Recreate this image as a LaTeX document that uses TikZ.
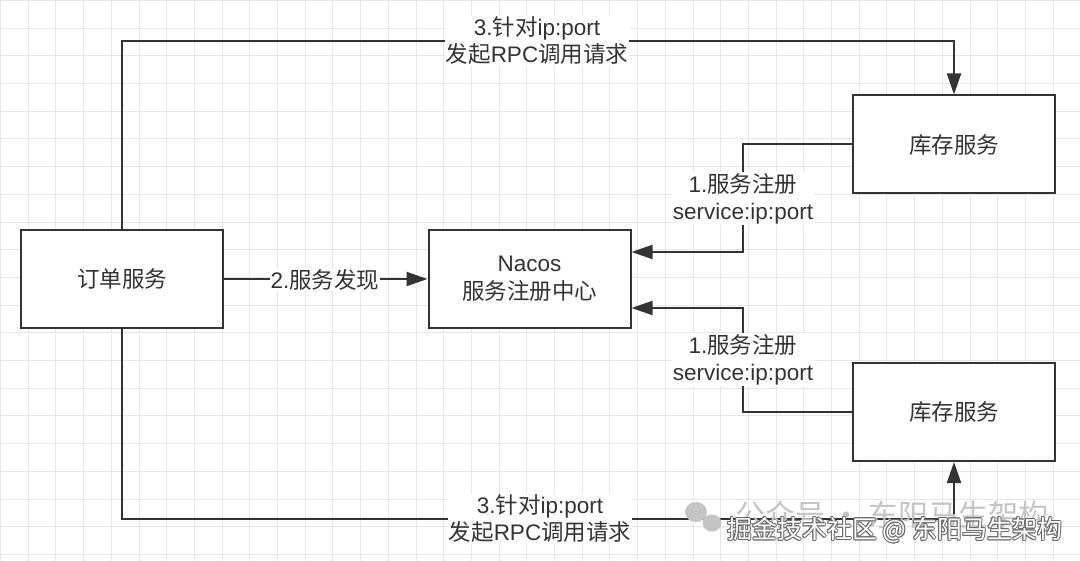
\documentclass[tikz,border=0pt]{standalone}
\usepackage{fontspec}
\setmainfont{Liberation Sans}
\newfontfamily\cjk{Noto Sans CJK SC}
\usetikzlibrary{arrows.meta}
\definecolor{ink}{HTML}{333333}
\definecolor{gridc}{HTML}{E6E6E6}
\definecolor{wmgray}{HTML}{C4C4C4}
\definecolor{wmline}{HTML}{6A6A6A}
\begin{document}
\begin{tikzpicture}[x=1pt,y=-1pt,
  box/.style={draw=ink,line width=2pt,fill=white,minimum width=202pt,minimum height=98pt,inner sep=0pt,font=\fontsize{22.5}{28}\selectfont,text=ink,align=center},
  conn/.style={draw=ink,line width=2pt},
  arr/.style={conn,-{Triangle[length=21pt,width=14pt]}},
  lbl/.style={fill=white,text=ink,font=\fontsize{22.5}{27}\selectfont,align=center,inner sep=1pt},
  wma/.style={text=wmgray,font=\cjk\fontsize{30}{30}\selectfont,inner sep=0pt},
  wmb/.style={font=\cjk\fontsize{25}{25}\selectfont,inner sep=0pt}]
\useasboundingbox (0,0) rectangle (1080,561);
\fill[white] (0,0) rectangle (1080,561);
% grid
\foreach \i in {0,...,39} \draw[gridc,line width=1pt] (0.5+27.7*\i,0) -- (0.5+27.7*\i,561);
\foreach \j in {0,...,20} \draw[gridc,line width=1pt] (0,0.5+27.7*\j) -- (1080,0.5+27.7*\j);
% boxes
\node[box] (order) at (122,279) {{\cjk 订单服务}};
\node[box] (nacos) at (529.5,279) {Nacos\\{\cjk 服务注册中心}};
\node[box] (stock1) at (954,144.5) {{\cjk 库存服务}};
\node[box] (stock2) at (954,412) {{\cjk 库存服务}};
% helper coordinates
\coordinate (topy) at (0,41);
\coordinate (boty) at (0,519);
\coordinate (ra) at (743,252);
\coordinate (rb) at (743,308);
% connectors
\draw[arr] (order.north) -- (order.north |- topy) -| (stock1.north);
\draw[arr] (order.south) -- (order.south |- boty) -| (stock2.south);
\draw[arr] (order.east) -- (nacos.west);
\draw[arr] (stock1.west) -| (ra) -- (nacos.east |- ra);
\draw[arr] (stock2.west) -| (rb) -- (nacos.east |- rb);
% labels
\node[lbl] (ltop) at (537,41) {3.{\cjk 针对}ip:port\\{\cjk 发起}RPC{\cjk 调用请求}};
\node[lbl] (lbot) at (540,519) {3.{\cjk 针对}ip:port\\{\cjk 发起}RPC{\cjk 调用请求}};
\node[lbl] (ldisc) at (325,280) {2.{\cjk 服务发现}};
\node[lbl] (lreg1) at (743,198.5) {1.{\cjk 服务注册}\\service:ip:port};
\node[lbl] (lreg2) at (743,359.5) {1.{\cjk 服务注册}\\service:ip:port};
% watermark
\fill[wmgray] (696,512) ellipse (11pt and 10pt);
\fill[wmgray] (712,523) ellipse (9.5pt and 8.5pt);
\node[wma,anchor=west] (wm1) at (735,515) {公众号 · 东阳马生架构};
\foreach \dx/\dy [count=\k] in {-1/0,1/0,0/-1,0/1,-0.7/-0.7,0.7/0.7,-0.7/0.7,0.7/-0.7}
  \node[wmb,text=wmline,anchor=west] (wmo\k) at (727+\dx,530+\dy) {掘金技术社区 @ 东阳马生架构};
\node[wmb,text=white,anchor=west] (wm2) at (727,530) {掘金技术社区 @ 东阳马生架构};
\end{tikzpicture}
\end{document}
